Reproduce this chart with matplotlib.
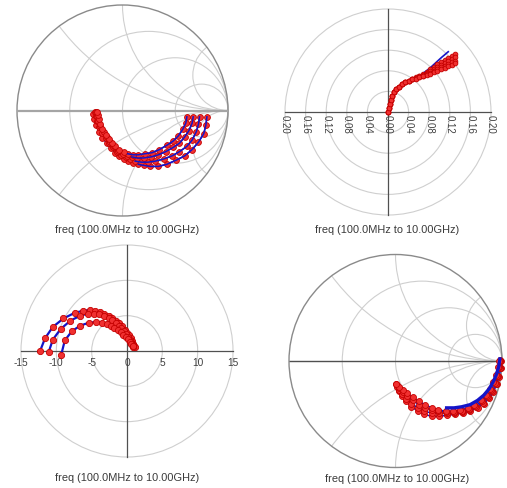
import numpy as np
import matplotlib
matplotlib.use("Agg")
import matplotlib.pyplot as plt
from matplotlib.patches import Circle

plt.rcParams['font.family'] = ['Liberation Sans', 'DejaVu Sans']

# ---------------- data ----------------
caption = "freq (100.0MHz to 10.00GHz)"

# Panel 1 : Smith chart, 4 traces (reflection coefficient re, im)
s1_a_re = [0.80, 0.79, 0.77, 0.72, 0.66, 0.59, 0.51, 0.42, 0.34, 0.26, 0.20, 0.15, 0.10, 0.05, 0.01, -0.03, -0.07, -0.11, -0.15, -0.19, -0.22, -0.25, -0.27, -0.28]
s1_a_im = [-0.06, -0.14, -0.22, -0.30, -0.37, -0.43, -0.47, -0.51, -0.53, -0.53, -0.52, -0.51, -0.50, -0.48, -0.46, -0.43, -0.40, -0.36, -0.31, -0.26, -0.20, -0.14, -0.08, -0.03]
s1_b_re = [0.73, 0.72, 0.70, 0.66, 0.61, 0.54, 0.47, 0.39, 0.31, 0.24, 0.18, 0.12, 0.07, 0.03, -0.01, -0.05, -0.09, -0.13, -0.16, -0.19, -0.22, -0.24, -0.25, -0.26]
s1_b_im = [-0.06, -0.13, -0.20, -0.28, -0.34, -0.39, -0.43, -0.46, -0.48, -0.49, -0.49, -0.48, -0.46, -0.44, -0.42, -0.39, -0.35, -0.31, -0.26, -0.21, -0.16, -0.10, -0.05, -0.01]
s1_c_re = [0.67, 0.66, 0.63, 0.59, 0.54, 0.48, 0.41, 0.34, 0.27, 0.20, 0.14, 0.09, 0.04, 0.00, -0.04, -0.08, -0.12, -0.15, -0.18, -0.21, -0.23, -0.24, -0.25]
s1_c_im = [-0.06, -0.12, -0.19, -0.25, -0.31, -0.35, -0.39, -0.42, -0.44, -0.45, -0.45, -0.44, -0.43, -0.41, -0.38, -0.34, -0.30, -0.25, -0.20, -0.15, -0.10, -0.05, -0.01]
s1_d_re = [0.61, 0.60, 0.57, 0.53, 0.48, 0.42, 0.35, 0.28, 0.21, 0.15, 0.10, 0.05, 0.01, -0.03, -0.07, -0.10, -0.13, -0.16, -0.19, -0.21, -0.22, -0.23, -0.24]
s1_d_im = [-0.06, -0.12, -0.18, -0.24, -0.29, -0.33, -0.37, -0.40, -0.41, -0.42, -0.42, -0.41, -0.39, -0.37, -0.34, -0.31, -0.27, -0.23, -0.18, -0.13, -0.08, -0.04, -0.01]

# Panel 2 : polar plot (linear magnitude), common start + 4 traces
s2_head_x = [0.000, 0.001, 0.003, 0.005, 0.008, 0.012, 0.016, 0.021, 0.027, 0.033, 0.040, 0.047]
s2_head_y = [0.000, 0.008, 0.016, 0.024, 0.031, 0.038, 0.044, 0.049, 0.054, 0.058, 0.061, 0.064]
s2_tail_x = [0.054, 0.061, 0.068, 0.075, 0.082, 0.089, 0.096, 0.103, 0.110, 0.117, 0.124, 0.131]
s2_a_y = [0.067, 0.070, 0.074, 0.078, 0.083, 0.088, 0.093, 0.097, 0.101, 0.105, 0.109, 0.112]
s2_b_y = [0.066, 0.069, 0.072, 0.075, 0.079, 0.083, 0.087, 0.091, 0.095, 0.099, 0.103, 0.106]
s2_c_y = [0.066, 0.068, 0.070, 0.073, 0.076, 0.080, 0.083, 0.087, 0.090, 0.093, 0.097, 0.100]
s2_d_y = [0.065, 0.067, 0.069, 0.071, 0.074, 0.077, 0.080, 0.083, 0.086, 0.089, 0.092, 0.095]
s2_model_x = [0.068, 0.080, 0.092, 0.104, 0.117]
s2_model_y = [0.075, 0.084, 0.095, 0.106, 0.117]
s2_ticks = [-0.20, -0.16, -0.12, -0.08, -0.04, 0.00, 0.04, 0.08, 0.12, 0.16, 0.20]
s2_rings = [0.04, 0.08, 0.12, 0.16, 0.20]

# Panel 3 : polar plot, 3 traces
s3_a_x = [-12.3, -11.6, -10.5, -9.0, -7.4, -6.2, -5.3, -4.5, -3.8, -3.2, -2.6, -2.1, -1.6, -1.1, -0.7, -0.3, 0.0, 0.3, 0.5, 0.7, 0.9, 1.0, 1.1]
s3_a_y = [0.0, 1.8, 3.4, 4.6, 5.4, 5.7, 5.8, 5.7, 5.5, 5.3, 5.0, 4.7, 4.3, 3.9, 3.5, 3.0, 2.6, 2.2, 1.8, 1.4, 1.0, 0.7, 0.5]
s3_b_x = [-11.1, -10.5, -9.4, -8.0, -6.6, -5.5, -4.6, -3.9, -3.2, -2.6, -2.1, -1.6, -1.2, -0.8, -0.4, -0.1, 0.2, 0.4, 0.6, 0.8, 0.9]
s3_b_y = [-0.2, 1.6, 3.1, 4.3, 5.0, 5.3, 5.3, 5.2, 5.0, 4.7, 4.4, 4.0, 3.6, 3.2, 2.8, 2.4, 2.0, 1.6, 1.3, 0.9, 0.6]
s3_c_x = [-9.3, -8.8, -7.8, -6.6, -5.4, -4.4, -3.6, -2.9, -2.3, -1.8, -1.3, -0.9, -0.5, -0.2, 0.1, 0.4, 0.6, 0.8]
s3_c_y = [-0.5, 1.5, 2.8, 3.6, 4.0, 4.1, 4.0, 3.8, 3.6, 3.3, 3.0, 2.7, 2.3, 2.0, 1.7, 1.3, 1.0, 0.7]
s3_ticks = [-15, -10, -5, 0, 5, 10, 15]
s3_rings = [5, 10, 15]

# Panel 4 : Smith chart, 4 traces + model line
s4_a_re = [0.97, 0.96, 0.94, 0.92, 0.89, 0.85, 0.80, 0.74, 0.68, 0.61, 0.54, 0.47, 0.40, 0.34, 0.28, 0.22, 0.16, 0.11, 0.07, 0.03, 0.00]
s4_a_im = [0.00, -0.06, -0.13, -0.20, -0.26, -0.32, -0.37, -0.41, -0.44, -0.46, -0.47, -0.47, -0.46, -0.44, -0.41, -0.38, -0.34, -0.30, -0.27, -0.24, -0.22]
s4_b_re = [0.98, 0.97, 0.95, 0.93, 0.90, 0.86, 0.81, 0.75, 0.69, 0.62, 0.55, 0.47, 0.40, 0.34, 0.28, 0.22, 0.16, 0.11, 0.07, 0.03, 0.00]
s4_b_im = [0.00, -0.06, -0.14, -0.21, -0.27, -0.33, -0.38, -0.42, -0.45, -0.47, -0.48, -0.48, -0.47, -0.46, -0.44, -0.41, -0.37, -0.33, -0.29, -0.25, -0.22]
s4_c_re = [0.98, 0.98, 0.96, 0.94, 0.91, 0.87, 0.82, 0.76, 0.69, 0.62, 0.55, 0.48, 0.41, 0.34, 0.27, 0.21, 0.15, 0.10, 0.06, 0.03, 0.01]
s4_c_im = [0.01, -0.07, -0.14, -0.22, -0.28, -0.34, -0.39, -0.43, -0.46, -0.48, -0.49, -0.49, -0.49, -0.49, -0.47, -0.44, -0.40, -0.36, -0.31, -0.27, -0.23]
s4_d_re = [0.99, 0.99, 0.97, 0.95, 0.92, 0.88, 0.83, 0.77, 0.70, 0.63, 0.56, 0.48, 0.41, 0.34, 0.27, 0.21, 0.15, 0.10, 0.06, 0.03, 0.01]
s4_d_im = [0.00, -0.07, -0.15, -0.22, -0.29, -0.35, -0.40, -0.44, -0.47, -0.49, -0.50, -0.51, -0.52, -0.52, -0.50, -0.47, -0.43, -0.38, -0.33, -0.28, -0.24]
s4_model_re = [0.98, 0.97, 0.95, 0.92, 0.88, 0.83, 0.77, 0.70, 0.62, 0.55, 0.48]
s4_model_im = [0.02, -0.05, -0.12, -0.19, -0.26, -0.32, -0.37, -0.41, -0.43, -0.44, -0.44]

smith_r = [1/3, 1, 3]
smith_x = [0.5, 1, 3]

# ---------------- styling ----------------
W, H = 507, 489
fig = plt.figure(figsize=(W/100, H/100), dpi=100)
fig.patch.set_facecolor('white')

BLUE = '#1414c8'
RED_F = '#f03030'
RED_E = '#c40000'
GRID = '#cfcfcf'
mk = dict(marker='o', ls='none', mfc=RED_F, mec=RED_E, mew=0.6)


def make_ax(cx, cy, rpx, rdata, half=120):
    ax = fig.add_axes([(cx-half)/W, (H-cy-half)/H, 2*half/W, 2*half/H])
    lim = rdata*half/rpx
    ax.set_xlim(-lim, lim)
    ax.set_ylim(-lim, lim)
    ax.axis('off')
    return ax


def smith_grid(ax, hcolor, hlw):
    clip = Circle((0, 0), 1, transform=ax.transData, fc='none', ec='none')
    ax.add_patch(clip)
    for r in smith_r:
        ax.add_patch(Circle((r/(1+r), 0), 1/(1+r), fc='none', ec=GRID, lw=0.8))
    for x in smith_x:
        for s in (1, -1):
            p = Circle((1, s/x), 1/x, fc='none', ec=GRID, lw=0.8)
            ax.add_patch(p)
            p.set_clip_path(clip)
    ax.add_patch(Circle((0, 0), 1, fc='none', ec='#8a8a8a', lw=1.0))
    ax.plot([-1, 1], [0, 0], color=hcolor, lw=hlw, solid_capstyle='butt')


def traces(ax, xs, ys, ms=4.2, lw=1.1):
    for x, y in zip(xs, ys):
        ax.plot(x, y, color=BLUE, lw=lw, zorder=2)
    for x, y in zip(xs, ys):
        ax.plot(x, y, zorder=3, ms=ms, **mk)


# Panel 1
ax1 = make_ax(122.5, 111.5, 105.5, 1.0)
smith_grid(ax1, '#a5a5a5', 1.6)
s1x = [s1_a_re, s1_b_re, s1_c_re, s1_d_re]
s1y = [s1_a_im, s1_b_im, s1_c_im, s1_d_im]
traces(ax1, s1x, s1y)
for x, y in zip(s1x, s1y):
    ax1.plot(x[:12], y[:12], color=BLUE, lw=1.1, zorder=4)

# Panel 2
ax2 = make_ax(388, 113, 103, 0.20)
for rr in s2_rings:
    ax2.add_patch(Circle((0, 0), rr, fc='none', ec=GRID, lw=0.8))
ax2.plot([-0.2, 0.2], [0, 0], color='#505050', lw=0.9)
ax2.plot([0, 0], [-0.2, 0.2], color='#505050', lw=0.9)
for t in s2_ticks:
    ax2.text(t, -0.004, f"{abs(t):.2f}", rotation=-90, ha='center', va='top',
             fontsize=7, color='#404040')
s2x = [s2_head_x + s2_tail_x] * 4
s2y = [s2_head_y + s2_a_y, s2_head_y + s2_b_y, s2_head_y + s2_c_y, s2_head_y + s2_d_y]
ax2.plot(s2_model_x, s2_model_y, color=BLUE, lw=1.2, zorder=2)
traces(ax2, s2x, s2y, ms=3.4)

# Panel 3
ax3 = make_ax(127, 352, 106, 15)
for rr in s3_rings:
    ax3.add_patch(Circle((0, 0), rr, fc='none', ec=GRID, lw=0.8))
ax3.plot([-15, 15], [0, 0], color='#505050', lw=0.9)
ax3.plot([0, 0], [-15, 15], color='#505050', lw=0.9)
for t in s3_ticks:
    ax3.text(t, -0.8, f"{t}", ha='center', va='top', fontsize=7.3, color='#404040')
traces(ax3, [s3_a_x, s3_b_x, s3_c_x], [s3_a_y, s3_b_y, s3_c_y], ms=4.5, lw=1.6)

# Panel 4
ax4 = make_ax(395.5, 362, 106.5, 1.0)
smith_grid(ax4, '#505050', 1.0)
traces(ax4, [s4_d_re, s4_c_re, s4_b_re, s4_a_re], [s4_d_im, s4_c_im, s4_b_im, s4_a_im], ms=4.3)
ax4.plot(s4_model_re, s4_model_im, color=BLUE, lw=2.4, zorder=4)

# captions
for cx, cy in [(127.5, 230), (387, 230), (127, 478), (397, 479)]:
    fig.text(cx/W, 1-cy/H, caption, ha='center', va='center', fontsize=7.9, color='#3a3a3a')

fig.savefig('out.png', dpi=100, facecolor='white')
